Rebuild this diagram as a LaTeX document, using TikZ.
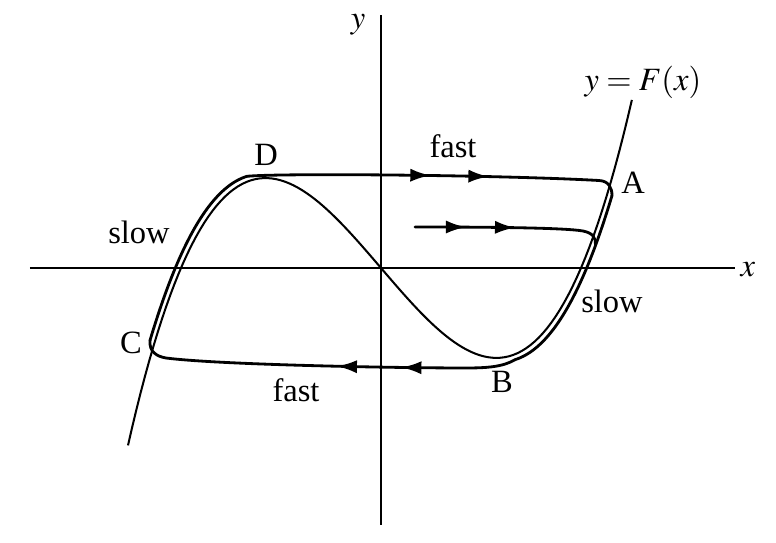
\documentclass[tikz,border=0pt]{standalone}
\usepackage{mathptmx}
\usepackage{fontspec}
\setmainfont{Liberation Serif}
\usetikzlibrary{arrows.meta,decorations.markings}

\tikzset{
  orbit/.style={line width=1.6pt, line join=round, line cap=round},
  nullcline/.style={line width=1.15pt},
  axis/.style={line width=0.9pt},
  tipat/.style={postaction={decorate, decoration={markings, mark=at position #1 with {\arrow{Latex[length=11.5pt,width=7.5pt]}}}}},
  lbl/.style={font=\fontsize{18.5}{21}\selectfont, inner sep=0pt},
}

\begin{document}
\begin{tikzpicture}[x=2cm, y=2cm, declare function={F(\t)=0.292*\t*(\t*\t-4);}]
  \useasboundingbox (-3.81,-2.75) rectangle (3.95,2.68);

  % axes
  \draw[axis] (-3.51,0) -- (3.54,0);
  \draw[axis] (0,-2.57) -- (0,2.53);
  \node[lbl] (xlbl) at (3.67,-0.02) {$x$};
  \node[lbl] (ylbl) at (-0.23,2.43) {$y$};

  % the curve y = F(x)
  \draw[nullcline, domain=-2.53:2.51, samples=120] plot (\x, {F(\x)});
  \node[lbl] (Flbl) at (2.62,1.86) {$y=F(x)$};

  % limit cycle: fast, slow, fast, slow
  \draw[orbit, tipat=0.49, tipat=0.645] (-1.34,0.917) .. controls (-1.0,0.95) and (1.2,0.93) .. (2.18,0.875) .. controls (2.28,0.87) and (2.31,0.80) .. (2.31,0.724);
  \draw[orbit, domain=2.27:1.30, samples=60] plot ({\x+0.04}, {F(\x)-0.04});
  \draw[orbit, tipat=0.305, tipat=0.476] (1.34,-0.917) .. controls (1.22,-0.99) and (1.05,-1.0) .. (0.85,-1.0) .. controls (0.2,-1.0) and (-1.6,-0.97) .. (-2.15,-0.9) .. controls (-2.24,-0.885) and (-2.32,-0.84) .. (-2.31,-0.724);
  \draw[orbit, domain=-2.27:-1.30, samples=60] plot ({\x-0.04}, {F(\x)+0.04});

  % inner trajectory
  \draw[orbit, tipat=0.27, tipat=0.53] (0.34,0.41) .. controls (1.2,0.41) and (1.85,0.40) .. (2.02,0.37) .. controls (2.12,0.35) and (2.15,0.30) .. (2.145,0.23);

  \node[lbl] (fastTop) at (0.72,1.22) {fast};
  \node[lbl] (fastBot) at (-0.85,-1.22) {fast};
  \node[lbl] (slowL) at (-2.42,0.36) {slow};
  \node[lbl] (slowR) at (2.31,-0.33) {slow};
  \node[lbl] (ptA) at (2.52,0.85) {A};
  \node[lbl] (ptB) at (1.21,-1.14) {B};
  \node[lbl] (ptC) at (-2.50,-0.75) {C};
  \node[lbl] (ptD) at (-1.15,1.13) {D};

\end{tikzpicture}
\end{document}
